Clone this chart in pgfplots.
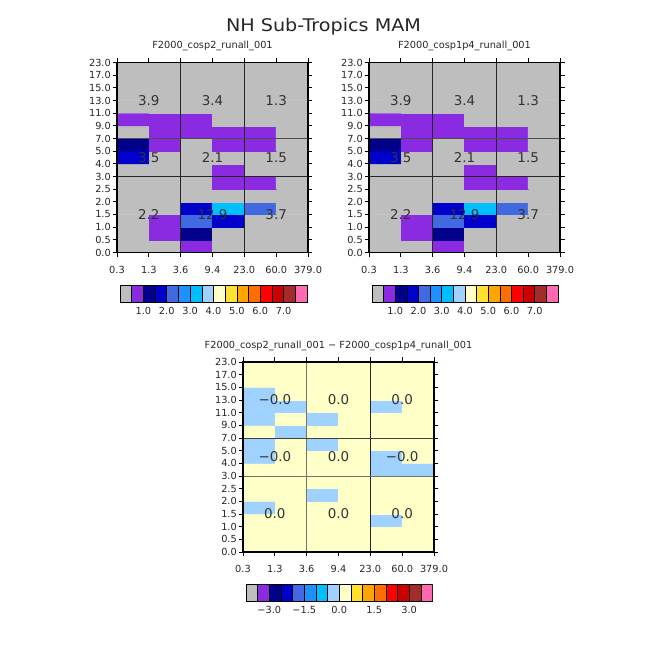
\documentclass[border=0pt]{standalone}
\usepackage{fontspec}
\setmainfont{DejaVu Sans}
\newfontfamily\titlefont[FakeStretch=1.1]{DejaVu Sans}
\usepackage{pgfplots}
\usepackage{pgfplotstable}
\pgfplotsset{compat=1.18}

\definecolor{c0}{RGB}{190,190,190}
\definecolor{c1}{RGB}{138,43,226}
\definecolor{c2}{RGB}{0,0,139}
\definecolor{c3}{RGB}{0,0,205}
\definecolor{c4}{RGB}{65,105,225}
\definecolor{c5}{RGB}{30,144,255}
\definecolor{c6}{RGB}{0,191,255}
\definecolor{c7}{RGB}{160,210,255}
\definecolor{c8}{RGB}{255,255,200}
\definecolor{c9}{RGB}{255,225,50}
\definecolor{c10}{RGB}{255,165,0}
\definecolor{c11}{RGB}{255,110,0}
\definecolor{c12}{RGB}{255,0,0}
\definecolor{c13}{RGB}{205,0,0}
\definecolor{c14}{RGB}{165,42,42}
\definecolor{c15}{RGB}{255,105,180}

\pgfplotsset{colormap={ncl}{rgb255=(190,190,190) rgb255=(138,43,226) rgb255=(0,0,139) rgb255=(0,0,205) rgb255=(65,105,225) rgb255=(30,144,255) rgb255=(0,191,255) rgb255=(160,210,255) rgb255=(255,255,200) rgb255=(255,225,50) rgb255=(255,165,0) rgb255=(255,110,0) rgb255=(255,0,0) rgb255=(205,0,0) rgb255=(165,42,42) rgb255=(255,105,180)}}

% cloud fraction (%) per CTP-tau bin: x = tau bin index, y = CTH bin index
\pgfplotstableread{
x y v
0.5 0.5 0.1
1.5 0.5 0.3
2.5 0.5 0.7
3.5 0.5 0.2
4.5 0.5 0.1
5.5 0.5 0.0
0.5 1.5 0.1
1.5 1.5 0.6
2.5 1.5 1.3
3.5 1.5 0.4
4.5 1.5 0.2
5.5 1.5 0.1
0.5 2.5 0.2
1.5 2.5 0.7
2.5 2.5 2.2
3.5 2.5 1.7
4.5 2.5 0.4
5.5 2.5 0.2
0.5 3.5 0.3
1.5 3.5 0.4
2.5 3.5 1.8
3.5 3.5 3.2
4.5 3.5 2.3
5.5 3.5 0.3
0.5 4.5 0.2
1.5 4.5 0.3
2.5 4.5 0.4
3.5 4.5 0.4
4.5 4.5 0.3
5.5 4.5 0.2
0.5 5.5 0.1
1.5 5.5 0.2
2.5 5.5 0.3
3.5 5.5 0.6
4.5 5.5 0.7
5.5 5.5 0.3
0.5 6.5 0.2
1.5 6.5 0.3
2.5 6.5 0.4
3.5 6.5 0.6
4.5 6.5 0.4
5.5 6.5 0.2
0.5 7.5 1.6
1.5 7.5 0.3
2.5 7.5 0.2
3.5 7.5 0.2
4.5 7.5 0.2
5.5 7.5 0.1
0.5 8.5 1.2
1.5 8.5 0.6
2.5 8.5 0.3
3.5 8.5 0.6
4.5 8.5 0.6
5.5 8.5 0.2
0.5 9.5 0.3
1.5 9.5 0.7
2.5 9.5 0.6
3.5 9.5 0.6
4.5 9.5 0.6
5.5 9.5 0.3
0.5 10.5 0.6
1.5 10.5 0.6
2.5 10.5 0.6
3.5 10.5 0.4
4.5 10.5 0.3
5.5 10.5 0.2
0.5 11.5 0.3
1.5 11.5 0.3
2.5 11.5 0.4
3.5 11.5 0.3
4.5 11.5 0.2
5.5 11.5 0.1
0.5 12.5 0.2
1.5 12.5 0.2
2.5 12.5 0.3
3.5 12.5 0.2
4.5 12.5 0.1
5.5 12.5 0.1
0.5 13.5 0.1
1.5 13.5 0.2
2.5 13.5 0.2
3.5 13.5 0.1
4.5 13.5 0.1
5.5 13.5 0.0
0.5 14.5 0.1
1.5 14.5 0.1
2.5 14.5 0.1
3.5 14.5 0.1
4.5 14.5 0.0
5.5 14.5 0.0
}\tabA

\pgfplotstableread{
x y v
0.5 0.5 0.00
1.5 0.5 0.01
2.5 0.5 0.01
3.5 0.5 0.01
4.5 0.5 0.00
5.5 0.5 0.00
0.5 1.5 0.00
1.5 1.5 0.01
2.5 1.5 0.01
3.5 1.5 0.01
4.5 1.5 0.00
5.5 1.5 0.00
0.5 2.5 0.01
1.5 2.5 0.01
2.5 2.5 0.01
3.5 2.5 0.01
4.5 2.5 -0.01
5.5 2.5 0.00
0.5 3.5 -0.01
1.5 3.5 0.01
2.5 3.5 0.01
3.5 3.5 0.01
4.5 3.5 0.01
5.5 3.5 0.00
0.5 4.5 0.00
1.5 4.5 0.00
2.5 4.5 -0.01
3.5 4.5 0.01
4.5 4.5 0.00
5.5 4.5 0.00
0.5 5.5 0.00
1.5 5.5 0.00
2.5 5.5 0.00
3.5 5.5 0.01
4.5 5.5 0.00
5.5 5.5 0.00
0.5 6.5 0.00
1.5 6.5 0.00
2.5 6.5 0.00
3.5 6.5 0.00
4.5 6.5 -0.01
5.5 6.5 -0.01
0.5 7.5 -0.01
1.5 7.5 0.00
2.5 7.5 0.00
3.5 7.5 0.00
4.5 7.5 -0.01
5.5 7.5 0.00
0.5 8.5 -0.01
1.5 8.5 0.00
2.5 8.5 -0.01
3.5 8.5 0.01
4.5 8.5 0.00
5.5 8.5 0.00
0.5 9.5 0.00
1.5 9.5 -0.01
2.5 9.5 0.00
3.5 9.5 0.01
4.5 9.5 0.00
5.5 9.5 0.00
0.5 10.5 -0.01
1.5 10.5 0.00
2.5 10.5 -0.01
3.5 10.5 0.00
4.5 10.5 0.00
5.5 10.5 0.00
0.5 11.5 -0.01
1.5 11.5 -0.01
2.5 11.5 0.00
3.5 11.5 0.00
4.5 11.5 -0.01
5.5 11.5 0.00
0.5 12.5 -0.01
1.5 12.5 0.00
2.5 12.5 0.00
3.5 12.5 0.00
4.5 12.5 0.00
5.5 12.5 0.00
0.5 13.5 0.00
1.5 13.5 0.00
2.5 13.5 0.00
3.5 13.5 0.00
4.5 13.5 0.00
5.5 13.5 0.00
0.5 14.5 0.00
1.5 14.5 0.00
2.5 14.5 0.00
3.5 14.5 0.00
4.5 14.5 0.00
5.5 14.5 0.00
}\tabD

\pgfplotsset{
  hm/.style={
    scale only axis, width=191bp, height=190bp,
    xmin=0, xmax=6, ymin=0, ymax=15,
    xtick={0,...,6},
    xticklabels={0.3,1.3,3.6,9.4,23.0,60.0,379.0},
    ytick={0,...,15},
    yticklabels={0.0,0.5,1.0,1.5,2.0,2.5,3.0,4.0,5.0,7.0,9.0,11.0,13.0,15.0,17.0,23.0},
    tick align=outside, major tick length=4.5bp,
    tick style={black, line width=0.8pt},
    axis line style={black, line width=1.2pt},
    ticklabel style={font=\fontsize{9.8}{10}\selectfont, text=black!85},
    xticklabel style={anchor=north, inner sep=0pt, yshift=-9bp},
    yticklabel style={anchor=east, inner sep=0pt, xshift=-1.5bp},
    colormap name=ncl, colormap access=direct,
    axis on top,
    title style={font=\fontsize{9.8}{10}\selectfont, anchor=base, at={(0.5,1)}, yshift=8bp, inner sep=0pt, text=black!85},
  },
  cb/.style={
    scale only axis, height=17bp,
    xmin=0, xmax=16, ymin=0, ymax=1,
    ytick=\empty, major tick length=0pt,
    axis line style={black, line width=0.6pt},
    ticklabel style={font=\fontsize{9.8}{10}\selectfont, text=black!85},
    xticklabel style={anchor=north, inner sep=0pt, yshift=-5.5bp},
  },
}
\tikzset{big/.style={font=\fontsize{13.5}{14}\selectfont, text=black!80}}

\newcommand\cbx[3]{\addplot[fill=#3, draw=black, line width=0.6pt] coordinates {(#1,0) (#2,0) (#2,1) (#1,1)} -- cycle;}
\newcommand\cbboxes{%
\cbx{0}{1}{c0}\cbx{1}{2}{c1}\cbx{2}{3}{c2}\cbx{3}{4}{c3}%
\cbx{4}{5}{c4}\cbx{5}{6}{c5}\cbx{6}{7}{c6}\cbx{7}{8}{c7}%
\cbx{8}{9}{c8}\cbx{9}{10}{c9}\cbx{10}{11}{c10}\cbx{11}{12}{c11}%
\cbx{12}{13}{c12}\cbx{13}{14}{c13}\cbx{14}{15}{c14}\cbx{15}{16}{c15}}

\begin{document}
\begin{tikzpicture}
\path[use as bounding box] (0,0) rectangle (648bp,648bp);
\node[font=\titlefont\fontsize{17.5}{20}\selectfont, anchor=base, text=black!85] at (323.5bp,616bp) {NH Sub-Tropics MAM};

% top-left
\begin{axis}[hm, at={(117bp,395.5bp)}, anchor=south west, title={F2000\_cosp2\_runall\_001}]
\addplot[matrix plot*, mesh/cols=6, mesh/rows=15, point meta={floor(2*\thisrow{v})}] table[x=x, y=y] {\tabA};
\addplot[black!85, line width=0.7pt] coordinates {(2,0) (2,15)};
\addplot[black!85, line width=0.7pt] coordinates {(4,0) (4,15)};
\addplot[black!85, line width=0.7pt] coordinates {(0,6) (6,6)};
\addplot[black!70, line width=0.7pt] coordinates {(0,9) (6,9)};
\node[big] at (axis cs:1,12) {3.9};
\node[big] at (axis cs:3,12) {3.4};
\node[big] at (axis cs:5,12) {1.3};
\node[big] at (axis cs:1,7.5) {3.5};
\node[big] at (axis cs:3,7.5) {2.1};
\node[big] at (axis cs:5,7.5) {1.5};
\node[big] at (axis cs:1,3) {2.2};
\node[big] at (axis cs:3,3) {12.9};
\node[big] at (axis cs:5,3) {3.7};
\end{axis}

% top-right
\begin{axis}[hm, at={(369bp,395.5bp)}, anchor=south west, title={F2000\_cosp1p4\_runall\_001}]
\addplot[matrix plot*, mesh/cols=6, mesh/rows=15, point meta={floor(2*\thisrow{v})}] table[x=x, y=y] {\tabA};
\addplot[black!85, line width=0.7pt] coordinates {(2,0) (2,15)};
\addplot[black!85, line width=0.7pt] coordinates {(4,0) (4,15)};
\addplot[black!85, line width=0.7pt] coordinates {(0,6) (6,6)};
\addplot[black!70, line width=0.7pt] coordinates {(0,9) (6,9)};
\node[big] at (axis cs:1,12) {3.9};
\node[big] at (axis cs:3,12) {3.4};
\node[big] at (axis cs:5,12) {1.3};
\node[big] at (axis cs:1,7.5) {3.5};
\node[big] at (axis cs:3,7.5) {2.1};
\node[big] at (axis cs:5,7.5) {1.5};
\node[big] at (axis cs:1,3) {2.2};
\node[big] at (axis cs:3,3) {12.9};
\node[big] at (axis cs:5,3) {3.7};
\end{axis}

% difference
\begin{axis}[hm, at={(243bp,96bp)}, anchor=south west, title={F2000\_cosp2\_runall\_001 − F2000\_cosp1p4\_runall\_001}]
\addplot[matrix plot*, mesh/cols=6, mesh/rows=15, point meta={floor(2*(\thisrow{v}+4))}] table[x=x, y=y] {\tabD};
\addplot[black!55, line width=0.7pt] coordinates {(2,0) (2,15)};
\addplot[black!85, line width=0.7pt] coordinates {(4,0) (4,15)};
\addplot[black!55, line width=0.7pt] coordinates {(0,6) (6,6)};
\addplot[black!75, line width=0.7pt] coordinates {(0,9) (6,9)};
\node[big] at (axis cs:1,12) {−0.0};
\node[big] at (axis cs:3,12) {0.0};
\node[big] at (axis cs:5,12) {0.0};
\node[big] at (axis cs:1,7.5) {−0.0};
\node[big] at (axis cs:3,7.5) {0.0};
\node[big] at (axis cs:5,7.5) {−0.0};
\node[big] at (axis cs:1,3) {0.0};
\node[big] at (axis cs:3,3) {0.0};
\node[big] at (axis cs:5,3) {0.0};
\end{axis}

% colorbars
\begin{axis}[cb, width=187bp, at={(120bp,346bp)}, anchor=south west,
  xtick={2,4,6,8,10,12,14}, xticklabels={1.0,2.0,3.0,4.0,5.0,6.0,7.0}]
\cbboxes
\end{axis}
\begin{axis}[cb, width=186bp, at={(372bp,346bp)}, anchor=south west,
  xtick={2,4,6,8,10,12,14}, xticklabels={1.0,2.0,3.0,4.0,5.0,6.0,7.0}]
\cbboxes
\end{axis}
\begin{axis}[cb, width=186.5bp, at={(246bp,47bp)}, anchor=south west,
  xtick={2,5,8,11,14}, xticklabels={−3.0,−1.5,0.0,1.5,3.0}]
\cbboxes
\end{axis}
\end{tikzpicture}
\end{document}
